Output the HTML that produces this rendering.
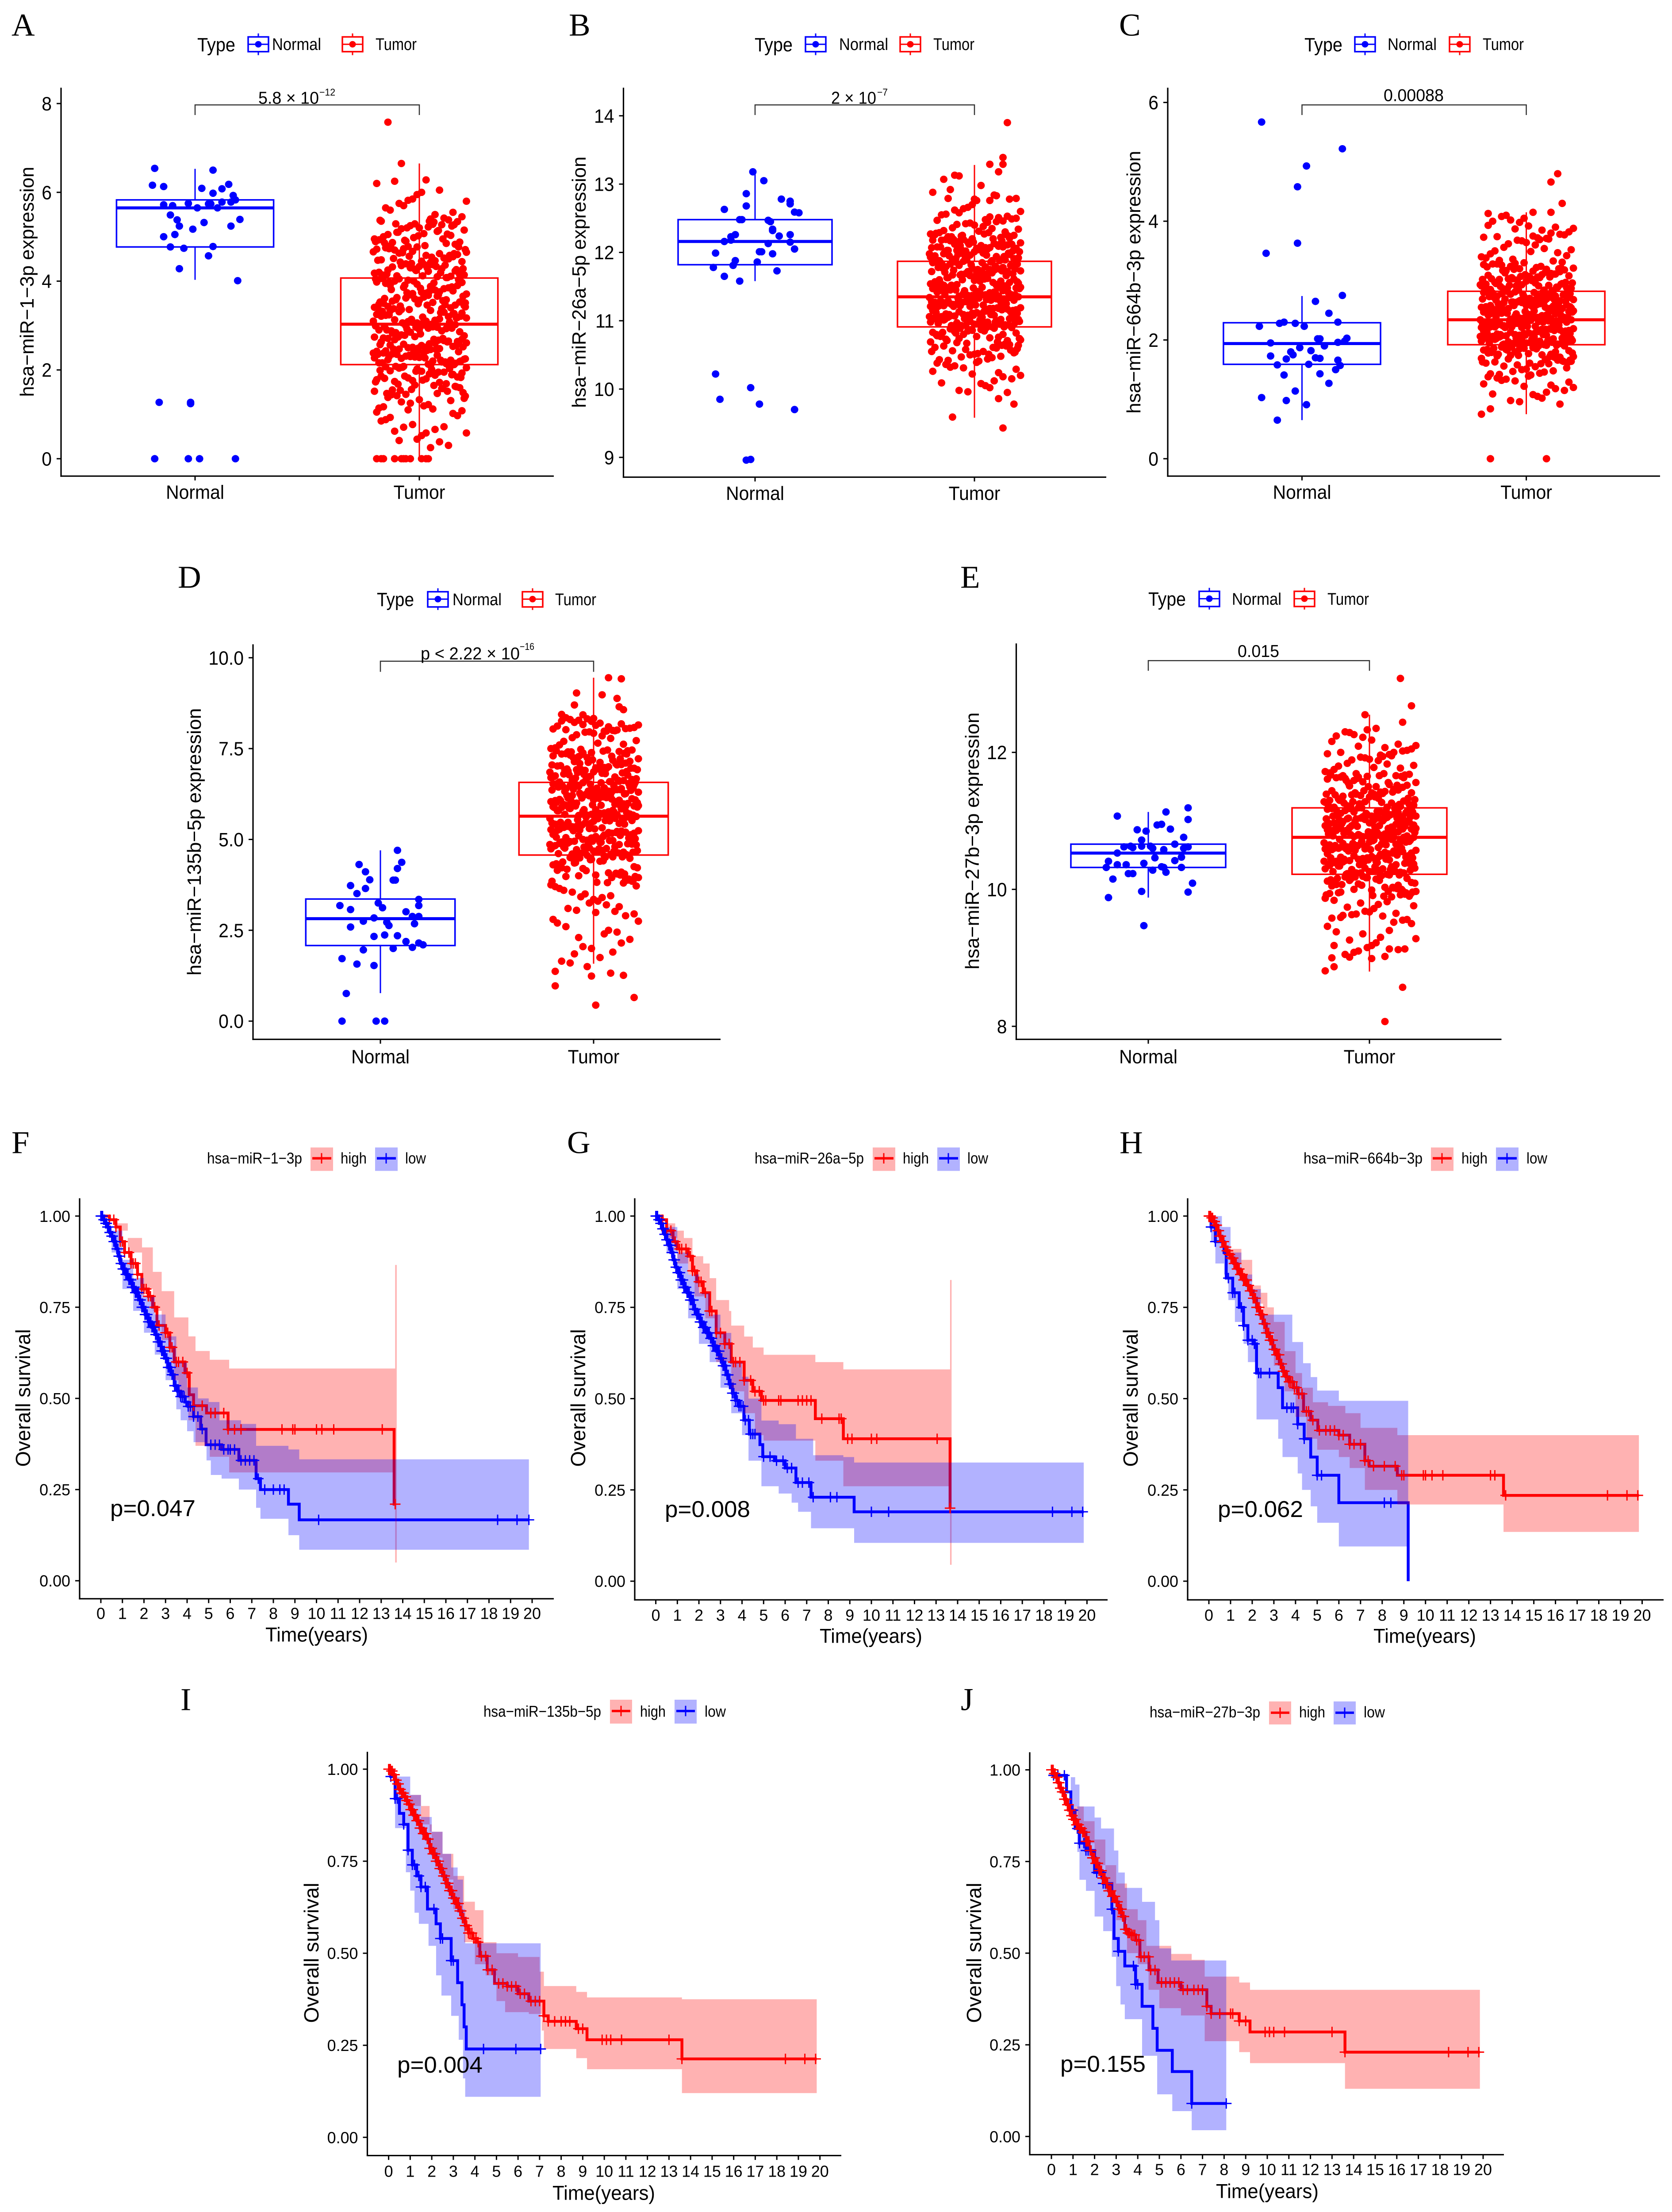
<!DOCTYPE html>
<html lang="en">
<head>
<meta charset="utf-8">
<title>miRNA expression and survival panels</title>
<style>
html,body{margin:0;padding:0;background:#fff;width:100vw;height:100vh;overflow:hidden;}
svg{display:block;position:absolute;left:0;top:0;width:100vw;height:100vh;overflow:hidden;}
text{font-family:"Liberation Sans",Arial,sans-serif;fill:#000;}
.ltr{font-family:"Liberation Serif",serif;font-size:73px;}
.yt{font-size:44px;text-anchor:middle;}
.kt{font-size:46px;text-anchor:middle;}
.lg{font-size:39px;}
.lt{font-size:44px;}
.kl{font-size:36px;}
.sig{font-size:40px;}
.sup{font-size:23px;}
.pv{font-size:53px;}
.tm{font-size:46px;text-anchor:middle;}
.brk{fill:none;stroke:#333;stroke-width:2.5;}
.kb{fill:#fff;stroke-width:3.5;}
</style>
</head>
<body>
<svg id="fig" xmlns="http://www.w3.org/2000/svg" viewBox="0 0 3780 5095" preserveAspectRatio="none">
<rect width="3780" height="5095" fill="#fff"/>

<!-- panel letters -->
<text class="ltr" x="26" y="82">A</text>
<text class="ltr" x="1286" y="82">B</text>
<text class="ltr" x="2530" y="82">C</text>
<text class="ltr" x="402" y="1354">D</text>
<text class="ltr" x="2171" y="1354">E</text>
<text class="ltr" x="26" y="2656">F</text>
<text class="ltr" x="1282" y="2656">G</text>
<text class="ltr" x="2531" y="2656">H</text>
<text class="ltr" x="408" y="3939">I</text>
<text class="ltr" x="2172" y="3939">J</text>

<!-- box y titles -->
<text class="yt" transform="translate(76,649) rotate(-90)" textLength="530" lengthAdjust="spacingAndGlyphs">hsa−miR−1−3p expression</text>
<text class="yt" transform="translate(1324,650) rotate(-90)" textLength="579" lengthAdjust="spacingAndGlyphs">hsa−miR−26a−5p expression</text>
<text class="yt" transform="translate(2578,650) rotate(-90)" textLength="605" lengthAdjust="spacingAndGlyphs">hsa−miR−664b−3p expression</text>
<text class="yt" transform="translate(454,1939) rotate(-90)" textLength="616" lengthAdjust="spacingAndGlyphs">hsa−miR−135b−5p expression</text>
<text class="yt" transform="translate(2213,1937) rotate(-90)" textLength="592" lengthAdjust="spacingAndGlyphs">hsa−miR−27b−3p expression</text>

<!-- box legends -->
<g>
<text class="lt" x="446" y="118" textLength="86" lengthAdjust="spacingAndGlyphs">Type</text>
<g stroke="#00f"><path d="M584 77V127" stroke-width="3"/><rect class="kb" x="561" y="85" width="46" height="34"/><path d="M561 102H607" stroke-width="3"/><circle cx="584" cy="102" r="7.5" fill="#00f" stroke="none"/></g>
<text class="lg" x="615" y="115" textLength="111" lengthAdjust="spacingAndGlyphs">Normal</text>
<g stroke="#f00"><path d="M797 77V127" stroke-width="3"/><rect class="kb" x="774" y="85" width="46" height="34"/><path d="M774 102H820" stroke-width="3"/><circle cx="797" cy="102" r="7.5" fill="#f00" stroke="none"/></g>
<text class="lg" x="849" y="115" textLength="93" lengthAdjust="spacingAndGlyphs">Tumor</text>
</g>
<g>
<text class="lt" x="1706" y="118" textLength="86" lengthAdjust="spacingAndGlyphs">Type</text>
<g stroke="#00f"><path d="M1844 77V127" stroke-width="3"/><rect class="kb" x="1821" y="85" width="46" height="34"/><path d="M1821 102H1867" stroke-width="3"/><circle cx="1844" cy="102" r="7.5" fill="#00f" stroke="none"/></g>
<text class="lg" x="1897" y="115" textLength="111" lengthAdjust="spacingAndGlyphs">Normal</text>
<g stroke="#f00"><path d="M2058 77V127" stroke-width="3"/><rect class="kb" x="2035" y="85" width="46" height="34"/><path d="M2035 102H2081" stroke-width="3"/><circle cx="2058" cy="102" r="7.5" fill="#f00" stroke="none"/></g>
<text class="lg" x="2110" y="115" textLength="93" lengthAdjust="spacingAndGlyphs">Tumor</text>
</g>
<g>
<text class="lt" x="2949" y="118" textLength="86" lengthAdjust="spacingAndGlyphs">Type</text>
<g stroke="#00f"><path d="M3086 77V127" stroke-width="3"/><rect class="kb" x="3063" y="85" width="46" height="34"/><path d="M3063 102H3109" stroke-width="3"/><circle cx="3086" cy="102" r="7.5" fill="#00f" stroke="none"/></g>
<text class="lg" x="3137" y="115" textLength="111" lengthAdjust="spacingAndGlyphs">Normal</text>
<g stroke="#f00"><path d="M3300 77V127" stroke-width="3"/><rect class="kb" x="3277" y="85" width="46" height="34"/><path d="M3277 102H3323" stroke-width="3"/><circle cx="3300" cy="102" r="7.5" fill="#f00" stroke="none"/></g>
<text class="lg" x="3352" y="115" textLength="93" lengthAdjust="spacingAndGlyphs">Tumor</text>
</g>
<g>
<text class="lt" x="852" y="1396" textLength="84" lengthAdjust="spacingAndGlyphs">Type</text>
<g stroke="#00f"><path d="M990 1355V1405" stroke-width="3"/><rect class="kb" x="967" y="1363" width="46" height="35"/><path d="M967 1380H1013" stroke-width="3"/><circle cx="990" cy="1380" r="7.5" fill="#00f" stroke="none"/></g>
<text class="lg" x="1023" y="1394" textLength="111" lengthAdjust="spacingAndGlyphs">Normal</text>
<g stroke="#f00"><path d="M1204 1355V1405" stroke-width="3"/><rect class="kb" x="1181" y="1363" width="46" height="35"/><path d="M1181 1380H1227" stroke-width="3"/><circle cx="1204" cy="1380" r="7.5" fill="#f00" stroke="none"/></g>
<text class="lg" x="1255" y="1394" textLength="93" lengthAdjust="spacingAndGlyphs">Tumor</text>
</g>
<g>
<text class="lt" x="2596" y="1395" textLength="85" lengthAdjust="spacingAndGlyphs">Type</text>
<g stroke="#00f"><path d="M2734 1354V1404" stroke-width="3"/><rect class="kb" x="2711" y="1362" width="46" height="35"/><path d="M2711 1379H2757" stroke-width="3"/><circle cx="2734" cy="1379" r="7.5" fill="#00f" stroke="none"/></g>
<text class="lg" x="2785" y="1393" textLength="112" lengthAdjust="spacingAndGlyphs">Normal</text>
<g stroke="#f00"><path d="M2949 1354V1404" stroke-width="3"/><rect class="kb" x="2926" y="1362" width="46" height="35"/><path d="M2926 1379H2972" stroke-width="3"/><circle cx="2949" cy="1379" r="7.5" fill="#f00" stroke="none"/></g>
<text class="lg" x="3001" y="1393" textLength="94" lengthAdjust="spacingAndGlyphs">Tumor</text>
</g>

<!-- KM static text -->
<text class="kt" transform="translate(68,3220) rotate(-90)" textLength="317" lengthAdjust="spacingAndGlyphs">Overall survival</text>
<text class="kt" transform="translate(1323,3220) rotate(-90)" textLength="317" lengthAdjust="spacingAndGlyphs">Overall survival</text>
<text class="kt" transform="translate(2572,3220) rotate(-90)" textLength="317" lengthAdjust="spacingAndGlyphs">Overall survival</text>
<text class="kt" transform="translate(720,4498) rotate(-90)" textLength="323" lengthAdjust="spacingAndGlyphs">Overall survival</text>
<text class="kt" transform="translate(2218,4498) rotate(-90)" textLength="323" lengthAdjust="spacingAndGlyphs">Overall survival</text>

<text class="tm" x="716" y="3781" textLength="232" lengthAdjust="spacingAndGlyphs">Time(years)</text>
<text class="tm" x="1969" y="3784" textLength="232" lengthAdjust="spacingAndGlyphs">Time(years)</text>
<text class="tm" x="3221" y="3784" textLength="232" lengthAdjust="spacingAndGlyphs">Time(years)</text>
<text class="tm" x="1365" y="5067" textLength="232" lengthAdjust="spacingAndGlyphs">Time(years)</text>
<text class="tm" x="2865" y="5063" textLength="232" lengthAdjust="spacingAndGlyphs">Time(years)</text>

<!-- KM legends -->
<g>
<text class="kl" x="468" y="2680" textLength="215" lengthAdjust="spacingAndGlyphs">hsa−miR−1−3p</text>
<g><rect x="702" y="2643" width="51" height="54" fill="#ffb2b2"/><path d="M706 2668H749" stroke="#f00" stroke-width="5.5"/><path d="M727 2656V2680" stroke="#f00" stroke-width="3"/></g>
<text class="kl" x="770" y="2680" textLength="59" lengthAdjust="spacingAndGlyphs">high</text>
<g><rect x="848" y="2643" width="51" height="54" fill="#b2b2ff"/><path d="M852 2668H895" stroke="#00f" stroke-width="5.5"/><path d="M873 2656V2680" stroke="#00f" stroke-width="3"/></g>
<text class="kl" x="916" y="2680" textLength="47" lengthAdjust="spacingAndGlyphs">low</text>
</g>
<g>
<text class="kl" x="1706" y="2680" textLength="247" lengthAdjust="spacingAndGlyphs">hsa−miR−26a−5p</text>
<g><rect x="1973" y="2643" width="51" height="54" fill="#ffb2b2"/><path d="M1977 2668H2020" stroke="#f00" stroke-width="5.5"/><path d="M1998 2656V2680" stroke="#f00" stroke-width="3"/></g>
<text class="kl" x="2041" y="2680" textLength="59" lengthAdjust="spacingAndGlyphs">high</text>
<g><rect x="2119" y="2643" width="51" height="54" fill="#b2b2ff"/><path d="M2123 2668H2166" stroke="#00f" stroke-width="5.5"/><path d="M2144 2656V2680" stroke="#00f" stroke-width="3"/></g>
<text class="kl" x="2187" y="2680" textLength="47" lengthAdjust="spacingAndGlyphs">low</text>
</g>
<g>
<text class="kl" x="2947" y="2680" textLength="269" lengthAdjust="spacingAndGlyphs">hsa−miR−664b−3p</text>
<g><rect x="3235" y="2643" width="51" height="54" fill="#ffb2b2"/><path d="M3239 2668H3282" stroke="#f00" stroke-width="5.5"/><path d="M3260 2656V2680" stroke="#f00" stroke-width="3"/></g>
<text class="kl" x="3304" y="2680" textLength="59" lengthAdjust="spacingAndGlyphs">high</text>
<g><rect x="3382" y="2643" width="51" height="54" fill="#b2b2ff"/><path d="M3386 2668H3429" stroke="#00f" stroke-width="5.5"/><path d="M3407 2656V2680" stroke="#00f" stroke-width="3"/></g>
<text class="kl" x="3451" y="2680" textLength="47" lengthAdjust="spacingAndGlyphs">low</text>
</g>
<g>
<text class="kl" x="1093" y="3954" textLength="266" lengthAdjust="spacingAndGlyphs">hsa−miR−135b−5p</text>
<g><rect x="1379" y="3915" width="50" height="55" fill="#ffb2b2"/><path d="M1383 3941H1425" stroke="#f00" stroke-width="5.5"/><path d="M1404 3929V3953" stroke="#f00" stroke-width="3"/></g>
<text class="kl" x="1447" y="3954" textLength="58" lengthAdjust="spacingAndGlyphs">high</text>
<g><rect x="1525" y="3915" width="50" height="55" fill="#b2b2ff"/><path d="M1529 3941H1571" stroke="#00f" stroke-width="5.5"/><path d="M1550 3929V3953" stroke="#00f" stroke-width="3"/></g>
<text class="kl" x="1593" y="3954" textLength="48" lengthAdjust="spacingAndGlyphs">low</text>
</g>
<g>
<text class="kl" x="2599" y="3956" textLength="250" lengthAdjust="spacingAndGlyphs">hsa−miR−27b−3p</text>
<g><rect x="2869" y="3919" width="50" height="53" fill="#ffb2b2"/><path d="M2873 3945H2915" stroke="#f00" stroke-width="5.5"/><path d="M2894 3933V3957" stroke="#f00" stroke-width="3"/></g>
<text class="kl" x="2937" y="3956" textLength="59" lengthAdjust="spacingAndGlyphs">high</text>
<g><rect x="3015" y="3919" width="50" height="53" fill="#b2b2ff"/><path d="M3019 3945H3061" stroke="#00f" stroke-width="5.5"/><path d="M3040 3933V3957" stroke="#00f" stroke-width="3"/></g>
<text class="kl" x="3083" y="3956" textLength="48" lengthAdjust="spacingAndGlyphs">low</text>
</g>

<g id="plots"></g>

<!-- brackets and significance labels (on top) -->
<g>
<path class="brk" d="M441 265V241.6H948V265"/>
<text class="sig" x="584" y="239" textLength="137" lengthAdjust="spacingAndGlyphs">5.8 × 10</text>
<text class="sup" x="722" y="220" textLength="36" lengthAdjust="spacingAndGlyphs">−12</text>
</g>
<g>
<path class="brk" d="M1707 265V241.6H2203V265"/>
<text class="sig" x="1879" y="239" textLength="102" lengthAdjust="spacingAndGlyphs">2 × 10</text>
<text class="sup" x="1983" y="220" textLength="24" lengthAdjust="spacingAndGlyphs">−7</text>
</g>
<g>
<path class="brk" d="M2943.5 265V241.6H3450.6V265"/>
<text class="sig" x="3128" y="233" textLength="136" lengthAdjust="spacingAndGlyphs">0.00088</text>
</g>
<g>
<path class="brk" d="M860 1547.5V1523H1342V1547.5"/>
<text class="sig" x="951" y="1519" textLength="224" lengthAdjust="spacingAndGlyphs">p &lt; 2.22 × 10</text>
<text class="sup" x="1175" y="1497" textLength="33" lengthAdjust="spacingAndGlyphs">−16</text>
</g>
<g>
<path class="brk" d="M2596 1545V1521.6H3096V1545"/>
<text class="sig" x="2798" y="1513" textLength="94" lengthAdjust="spacingAndGlyphs">0.015</text>
</g>

<text class="pv" x="249" y="3492" textLength="193" lengthAdjust="spacingAndGlyphs">p=0.047</text>
<text class="pv" x="1503" y="3494" textLength="193" lengthAdjust="spacingAndGlyphs">p=0.008</text>
<text class="pv" x="2753" y="3494" textLength="193" lengthAdjust="spacingAndGlyphs">p=0.062</text>
<text class="pv" x="898" y="4774" textLength="193" lengthAdjust="spacingAndGlyphs">p=0.004</text>
<text class="pv" x="2397" y="4772" textLength="193" lengthAdjust="spacingAndGlyphs">p=0.155</text>
</svg>

<script>
/* ---------- box-plot data ---------- */
const categories = ['Normal','Tumor'];

const yTicksA = [0,2,4,6,8];
const yTicksB = [9,10,11,12,13,14];
const yTicksC = [0,2,4,6];
const yTicksD = [0,2.5,5,7.5,10];
const yTicksE = [8,10,12];
const yTickLabelsA = ['0','2','4','6','8'];
const yTickLabelsB = ['9','10','11','12','13','14'];
const yTickLabelsC = ['0','2','4','6'];
const yTickLabelsD = ['0.0','2.5','5.0','7.5','10.0'];
const yTickLabelsE = ['8','10','12'];

/* whisker-low, q1, median, q3, whisker-high */
const normalBoxA = [4.03,4.77,5.65,5.83,6.53];
const tumorBoxA = [0,2.12,3.03,4.07,6.65];
const normalBoxB = [11.58,11.82,12.16,12.48,13.18];
const tumorBoxB = [9.58,10.91,11.35,11.87,13.28];
const normalBoxC = [0.65,1.59,1.94,2.29,2.74];
const tumorBoxC = [0.75,1.92,2.34,2.82,4.15];
const normalBoxD = [0.77,2.08,2.82,3.36,4.7];
const tumorBoxD = [1.58,4.57,5.64,6.57,9.45];
const normalBoxE = [9.88,10.32,10.53,10.66,11.13];
const tumorBoxE = [8.8,10.22,10.76,11.19,12.55];

/* jitter is in percent of the category spacing */
const normalJitterA = [-18,8,-19,-14,15,3,12,8,17,-14,-10,-3,6,7,12,16,18,1,10,-11,-8,-7,20,16,4,-1,-9,-14,-11,-5,8,6,-7,19,-16,-2,-2,-18,-3,2,18];
const normalValuesA = [6.54,6.5,6.16,6.13,6.18,6.09,6.08,5.98,5.93,5.72,5.7,5.75,5.74,5.74,5.78,5.78,5.83,5.65,5.65,5.49,5.38,5.24,5.39,5.24,5.32,5.17,5.05,5,4.77,4.74,4.78,4.57,4.28,4.01,1.27,1.27,1.24,0,0,0,0];
const normalJitterB = [-1,4,-4,-4,-14,12,16,16,18,20,-7,-6,6,7,8,8,-9,-11,-11,-14,11,16,16,6,18,2,3,8,-18,-9,-10,1,-19,10,-14,-7,-18,-2,-16,2,18,-2,-4];
const normalValuesB = [13.18,13.05,12.86,12.68,12.63,12.78,12.75,12.71,12.59,12.58,12.48,12.48,12.47,12.45,12.34,12.32,12.26,12.23,12.18,12.16,12.24,12.26,12.15,12.13,12.05,12.01,12.01,11.98,11.99,11.88,11.81,11.86,11.78,11.73,11.65,11.58,10.22,10.02,9.85,9.78,9.7,8.97,8.96];
const normalJitterC = [-18,18,2,-2,-2,-16,18,6,12,16,-10,-8,-3,1,-19,7,8,20,19,16,-14,10,-1,4,-5,-4,-14,-7,6,8,16,-11,3,17,15,8,-8,12,-3,-18,-7,2,-11];
const normalValuesC = [5.67,5.22,4.93,4.58,3.63,3.46,2.75,2.65,2.45,2.3,2.28,2.3,2.28,2.23,2.23,2.02,2.02,2.03,1.98,1.96,1.95,1.9,1.87,1.82,1.8,1.75,1.73,1.68,1.7,1.69,1.66,1.58,1.59,1.57,1.5,1.43,1.41,1.27,1.14,1.03,0.98,0.91,0.65];
const normalJitterD = [8,10,8,-10,-7,-5,6,7,-14,-7,-11,18,18,-1,1,-19,-14,12,15,18,-3,-8,3,4,16,-14,-3,2,8,12,18,20,15,6,-8,-18,-11,-3,-16,-18,-2,2];
const normalValuesD = [4.7,4.37,4.2,4.31,4.11,3.89,3.88,3.88,3.73,3.65,3.51,3.35,3.18,3.25,3.12,3.18,3.07,3.01,2.88,2.88,2.84,2.75,2.72,2.63,2.68,2.59,2.33,2.37,2.35,2.19,2.15,2.1,2.03,2,1.96,1.72,1.57,1.53,0.76,0,0,0];
const normalJitterE = [18,18,8,-14,4,6,-5,-1,10,16,-3,12,-8,-11,-7,-3,1,2,7,16,18,-14,3,15,12,-18,-2,-14,-10,-19,6,7,15,2,8,-9,-7,-16,20,-3,18,-18,-2];
const normalValuesE = [11.19,11.02,11.13,11.07,10.94,10.95,10.87,10.85,10.88,10.76,10.72,10.66,10.63,10.62,10.61,10.63,10.63,10.6,10.58,10.6,10.62,10.53,10.46,10.47,10.42,10.41,10.38,10.36,10.36,10.32,10.33,10.32,10.32,10.28,10.25,10.23,10.23,10.15,10.09,9.97,9.96,9.88,9.47];

const tumorJitter = [
5,-11,15,-1,-17,9,-7,19,3,-13,13,-3,-19,7,-9,17,1,-15,11,-5,21,
4,-12,14,-2,-18,8,-8,18,2,-14,12,-4,-20,6,-10,16,0,-16,10,-6,20,
-5,21,-11,11,5,-19,15,-1,-17,9,-7,19,3,-13,13,-3,7,-9,17,1,-15,
6,-10,16,0,-16,10,-6,20,4,-12,14,-2,-18,8,-8,18,2,-14,12,-4,-20,
1,-15,11,-5,21,5,-11,15,-1,-17,9,-7,19,3,-13,13,-3,-19,7,-9,17,
-4,-20,6,-10,16,0,-16,10,-6,20,4,-12,14,-2,-18,8,-8,18,2,-14,12,
9,-7,19,3,-13,13,-3,-19,7,-9,17,1,-15,11,-5,21,5,-11,15,-1,-17,
-16,10,-6,20,4,-12,14,-2,-18,8,-8,18,2,-14,12,-4,-20,6,-10,16,0,
13,-3,-19,7,-9,17,1,-15,11,-5,21,5,-11,15,-1,-17,9,-7,19,3,-13,
-18,8,-8,18,2,-14,12,-4,-20,6,-10,16,0,-16,10,-6,20,4,-12,14,-2,
17,1,-15,11,-5,21,5,-11,15,-1,-17,9,-7,19,3,-13,13,-3,-19,7,-9,
-14,12,-4,-20,6,-10,16,0,-16,10,-6,20,4,-12,14,-2,-18,8,-8,18,2,
21,5,-11,15,-1,-17,9,-7,19,3,-13,13,-3,-19,7,-9,17,1,-15,11,-5];

const denseJitter = [
-3.5,18.5,-14.5,8.5,-9.5,20.5,1.5,-17.5,12.5,-6.5,16.5,-12.5,4.5,-19.5,10.5,-1.5,19.5,-15.5,6.5,-8.5,14.5,
2.5,-10.5,17.5,-16.5,7.5,-4.5,13.5,-20.5,9.5,-0.5,15.5,-13.5,3.5,-7.5,20.5,-11.5,11.5,-18.5,5.5,-2.5,18.5,
-9.5,16.5,-5.5,12.5,-15.5,0.5,19.5,-12.5,8.5,-19.5,4.5,-6.5,14.5,-17.5,10.5,-1.5,17.5,-10.5,2.5,-14.5,6.5,
15.5,-7.5,20.5,-3.5,11.5,-16.5,5.5,-11.5,18.5,-0.5,-20.5,9.5,-8.5,13.5,-13.5,3.5,16.5,-4.5,7.5,-18.5,1.5,
-12.5,10.5,-2.5,19.5,-9.5,14.5,-17.5,6.5,-5.5,12.5,-15.5,0.5,17.5,-10.5,4.5,-19.5,8.5,-6.5,20.5,-13.5,2.5,
11.5,-16.5,5.5,-1.5,15.5,-8.5,18.5,-11.5,3.5,-20.5,9.5,-3.5,13.5,-14.5,7.5,-7.5,16.5,-18.5,1.5,-4.5,19.5,
-0.5,-12.5,14.5,-15.5,6.5,-9.5,20.5,-5.5,10.5,-17.5,2.5,12.5,-10.5,17.5,-2.5,4.5,-19.5,8.5,-13.5,15.5,-6.5];

const tumorValuesA = [
.25,.62,1.02,.44,.85,.38,.71,1.08,.58,.93,.30,.77,1.05,.66,.41,.97,.52,.88,.72,1.10,.58,
1.22,1.55,1.31,1.66,1.14,1.47,1.28,1.60,1.19,1.38,1.69,1.25,1.52,1.12,1.42,1.63,1.33,1.17,1.58,1.45,1.36,
1.82,2.05,1.74,1.95,2.10,1.78,1.90,2.02,1.86,1.72,2.08,1.93,1.80,1.98,2.11,1.76,1.88,2.04,1.84,1.97,2.07,
2.2,2.35,2.15,2.28,2.38,2.18,2.31,2.24,2.13,2.36,2.22,2.29,2.16,2.33,2.26,2.19,2.39,2.23,2.14,2.3,2.27,
2.55,2.43,2.66,2.5,2.61,2.46,2.68,2.53,2.41,2.63,2.48,2.58,2.69,2.44,2.56,2.65,2.51,2.42,2.6,2.47,2.64,
2.85,2.74,2.97,2.8,3.02,2.91,2.72,2.88,2.99,2.77,2.94,2.83,3.0,2.75,2.9,2.96,2.79,2.86,3.01,2.71,2.93,
3.15,3.05,3.28,3.1,3.33,3.2,3.07,3.25,3.12,3.31,3.18,3.04,3.23,3.3,3.09,3.17,3.34,3.13,3.26,3.06,3.21,
3.5,3.38,3.62,3.45,3.68,3.55,3.4,3.6,3.48,3.66,3.36,3.53,3.64,3.43,3.58,3.69,3.41,3.52,3.63,3.46,3.57,
3.85,3.72,3.98,3.8,4.05,3.9,3.75,3.95,3.83,4.02,3.71,3.88,4.0,3.78,3.93,4.06,3.76,3.86,3.97,3.73,3.91,
4.2,4.1,4.35,4.15,4.38,4.25,4.08,4.3,4.18,4.37,4.12,4.23,4.33,4.09,4.28,4.39,4.14,4.22,4.32,4.11,4.27,
4.6,4.45,4.75,4.52,4.78,4.65,4.42,4.7,4.55,4.77,4.48,4.62,4.73,4.44,4.58,4.79,4.5,4.67,4.72,4.46,4.63,
5.05,4.85,5.25,4.95,5.28,5.1,4.83,5.2,5.0,5.27,4.9,5.15,5.22,4.87,5.03,5.29,4.93,5.12,5.18,4.88,5.07,
5.8,5.4,6.25,5.55,5.95,5.35,6.05,5.7,5.45,6.28,5.6,5.38,5.85,6.2,5.5,5.75,5.34,6.0,5.65,5.42,5.82];
const tumorDenseA = [
1.56,1.83,1.47,1.95,1.68,1.41,1.77,1.99,1.52,1.86,1.62,1.44,1.91,1.73,1.58,1.97,1.49,1.81,1.65,1.54,1.89,
2.27,2.08,2.41,2.16,2.46,2.33,2.03,2.38,2.22,2.49,2.12,2.3,2.44,2.06,2.25,2.47,2.18,2.35,2.01,2.4,2.2,
2.74,2.55,2.92,2.63,2.97,2.81,2.52,2.88,2.67,2.99,2.59,2.78,2.94,2.57,2.71,2.96,2.61,2.84,2.51,2.9,2.69,
3.27,3.06,3.42,3.14,3.47,3.32,3.03,3.38,3.21,3.49,3.1,3.29,3.44,3.08,3.24,3.46,3.17,3.36,3.01,3.4,3.19,
3.81,3.56,4.0,3.66,4.06,3.87,3.53,3.96,3.74,4.08,3.61,3.84,4.03,3.58,3.77,4.05,3.69,3.91,3.51,3.98,3.72,
4.36,4.14,4.54,4.24,4.62,4.43,4.11,4.51,4.3,4.66,4.19,4.4,4.58,4.16,4.33,4.64,4.26,4.47,4.12,4.56,4.28,
5.02,4.74,5.24,4.86,5.33,5.1,4.71,5.2,4.95,5.37,4.8,5.06,5.29,4.77,4.98,5.35,4.89,5.14,4.73,5.27,4.92];
const tumorExtraJitterA = [-14,-8,-19,-17,-16,-11,-8,-7,-6,-4,1,3,4];
const tumorExtraValuesA = [7.58,6.65,0,0,0,0,0,0,0,0,0,0,0];

const tumorValuesB = [
10.05,10.32,9.95,10.22,10.38,10.12,9.98,10.29,10.08,10.36,10.18,9.96,10.26,10.02,10.34,10.15,10.39,10.09,10.24,10.31,10.2,
10.55,10.42,10.66,10.5,10.61,10.46,10.68,10.53,10.41,10.63,10.48,10.58,10.69,10.44,10.56,10.65,10.51,10.43,10.6,10.47,10.64,
10.8,10.72,10.88,10.76,10.9,10.83,10.71,10.86,10.78,10.89,10.74,10.82,10.87,10.73,10.8,10.85,10.75,10.84,10.9,10.77,10.81,
10.98,10.92,11.03,10.95,11.04,11.0,10.93,11.02,10.96,11.05,10.94,10.99,11.03,10.91,10.97,11.04,10.95,11.01,11.02,10.93,10.98,
11.12,11.06,11.18,11.09,11.19,11.14,11.07,11.17,11.11,11.2,11.08,11.13,11.16,11.06,11.1,11.19,11.08,11.15,11.18,11.07,11.12,
11.28,11.21,11.33,11.24,11.34,11.3,11.22,11.32,11.26,11.35,11.23,11.29,11.31,11.21,11.27,11.34,11.25,11.3,11.33,11.22,11.28,
11.42,11.36,11.48,11.39,11.49,11.44,11.37,11.47,11.41,11.5,11.38,11.43,11.46,11.36,11.4,11.49,11.38,11.45,11.48,11.37,11.42,
11.6,11.52,11.68,11.55,11.69,11.63,11.51,11.66,11.57,11.7,11.53,11.61,11.65,11.52,11.58,11.69,11.54,11.62,11.67,11.56,11.59,
11.78,11.72,11.85,11.75,11.86,11.8,11.71,11.84,11.76,11.87,11.73,11.79,11.83,11.72,11.77,11.86,11.74,11.81,11.85,11.73,11.79,
11.95,11.88,12.03,11.91,12.04,11.98,11.89,12.02,11.93,12.05,11.9,11.97,12.01,11.88,11.94,12.04,11.92,11.99,12.03,11.89,11.96,
12.12,12.06,12.18,12.09,12.19,12.14,12.07,12.17,12.11,12.2,12.08,12.13,12.16,12.06,12.1,12.19,12.08,12.15,12.18,12.07,12.12,
12.32,12.22,12.42,12.27,12.44,12.36,12.21,12.4,12.29,12.45,12.24,12.34,12.38,12.23,12.3,12.43,12.26,12.35,12.41,12.25,12.31,
12.6,12.48,12.92,12.53,12.7,12.47,12.84,12.58,12.5,12.98,12.56,12.46,12.66,12.88,12.52,12.62,12.49,12.76,12.55,12.51,12.64];
const tumorDenseB = [
10.67,10.54,10.83,10.61,10.88,10.74,10.52,10.8,10.64,10.89,10.57,10.71,10.85,10.55,10.69,10.87,10.59,10.77,10.51,10.82,10.63,
11.01,10.93,11.07,10.96,11.09,11.03,10.91,11.06,10.98,11.08,10.94,11.02,11.05,10.92,10.99,11.09,10.95,11.04,10.9,11.06,10.97,
11.21,11.13,11.27,11.16,11.29,11.23,11.11,11.26,11.18,11.28,11.14,11.22,11.25,11.12,11.19,11.29,11.15,11.24,11.1,11.27,11.17,
11.41,11.33,11.47,11.36,11.49,11.43,11.31,11.46,11.38,11.48,11.34,11.42,11.45,11.32,11.39,11.49,11.35,11.44,11.3,11.47,11.37,
11.63,11.53,11.71,11.57,11.74,11.66,11.51,11.7,11.6,11.73,11.55,11.64,11.69,11.52,11.61,11.72,11.56,11.67,11.5,11.71,11.58,
11.88,11.78,11.96,11.82,11.99,11.91,11.76,11.95,11.85,11.98,11.8,11.89,11.94,11.77,11.86,11.97,11.81,11.92,11.75,11.96,11.83,
12.15,12.03,12.26,12.08,12.29,12.19,12.01,12.25,12.11,12.28,12.05,12.17,12.23,12.02,12.12,12.27,12.07,12.2,12.0,12.24,12.1];
const tumorExtraJitterB = [15,13,13,7,11,-14,-9,-7,10,-12,0,16,19,7,13,-10,18,11];
const tumorExtraValuesB = [13.9,13.39,13.29,13.29,13.18,13.07,13.13,13.12,12.83,12.79,12.78,12.78,12.79,12.76,9.43,9.59,9.78,9.86];

const tumorValuesC = [
1.05,1.32,.92,1.22,1.38,1.12,.98,1.29,1.08,1.36,1.18,.96,1.26,1.02,1.34,1.15,1.39,1.09,1.24,1.31,1.2,
1.55,1.42,1.66,1.5,1.61,1.46,1.68,1.53,1.41,1.63,1.48,1.58,1.69,1.44,1.56,1.65,1.51,1.43,1.6,1.47,1.64,
1.8,1.72,1.88,1.76,1.9,1.83,1.71,1.86,1.78,1.91,1.74,1.82,1.87,1.73,1.8,1.85,1.75,1.84,1.9,1.77,1.81,
1.98,1.93,2.03,1.95,2.04,2.0,1.94,2.02,1.96,2.05,1.93,1.99,2.03,1.92,1.97,2.04,1.95,2.01,2.02,1.94,1.98,
2.12,2.06,2.18,2.09,2.19,2.14,2.07,2.17,2.11,2.2,2.08,2.13,2.16,2.06,2.1,2.19,2.08,2.15,2.18,2.07,2.12,
2.28,2.21,2.33,2.24,2.34,2.3,2.22,2.32,2.26,2.34,2.23,2.29,2.31,2.21,2.27,2.33,2.25,2.3,2.33,2.22,2.28,
2.42,2.35,2.48,2.39,2.49,2.44,2.37,2.47,2.41,2.5,2.38,2.43,2.46,2.36,2.4,2.49,2.38,2.45,2.48,2.37,2.42,
2.58,2.51,2.64,2.54,2.65,2.6,2.52,2.63,2.56,2.65,2.53,2.59,2.62,2.51,2.57,2.64,2.55,2.61,2.63,2.53,2.58,
2.74,2.66,2.8,2.7,2.82,2.76,2.67,2.79,2.72,2.81,2.68,2.75,2.78,2.66,2.73,2.8,2.69,2.77,2.79,2.67,2.74,
2.94,2.84,3.03,2.88,3.04,2.97,2.83,3.01,2.91,3.05,2.86,2.95,2.99,2.85,2.92,3.03,2.87,2.96,3.02,2.89,2.93,
3.18,3.07,3.28,3.12,3.29,3.21,3.06,3.26,3.15,3.3,3.09,3.19,3.24,3.08,3.16,3.28,3.11,3.2,3.27,3.1,3.17,
3.5,3.33,3.68,3.4,3.69,3.56,3.31,3.64,3.45,3.7,3.36,3.52,3.6,3.34,3.47,3.67,3.38,3.54,3.62,3.42,3.49,
3.88,3.72,4.08,3.78,4.05,3.93,3.71,4.02,3.82,3.75,3.74,3.9,3.98,3.73,3.85,4.1,3.77,3.92,4.0,3.8,3.87];
const tumorDenseC = [
1.74,1.62,1.86,1.67,1.89,1.78,1.61,1.84,1.71,1.88,1.64,1.76,1.85,1.63,1.72,1.87,1.66,1.79,1.6,1.83,1.69,
2.01,1.92,2.07,1.95,2.09,2.03,1.91,2.06,1.98,2.08,1.94,2.02,2.05,1.93,1.99,2.09,1.96,2.04,1.9,2.06,1.97,
2.21,2.13,2.27,2.16,2.29,2.23,2.11,2.26,2.18,2.28,2.14,2.22,2.25,2.12,2.19,2.29,2.15,2.24,2.1,2.27,2.17,
2.41,2.33,2.47,2.36,2.49,2.43,2.31,2.46,2.38,2.48,2.34,2.42,2.45,2.32,2.39,2.49,2.35,2.44,2.3,2.47,2.37,
2.61,2.53,2.67,2.56,2.69,2.63,2.51,2.66,2.58,2.68,2.54,2.62,2.65,2.52,2.59,2.69,2.55,2.64,2.5,2.67,2.57,
2.83,2.73,2.91,2.77,2.94,2.86,2.71,2.9,2.8,2.93,2.75,2.84,2.89,2.72,2.81,2.92,2.76,2.87,2.7,2.91,2.78,
3.1,2.98,3.2,3.03,3.24,3.13,2.96,3.19,3.06,3.23,3.0,3.11,3.17,2.97,3.07,3.22,3.02,3.14,2.95,3.21,3.05];
const tumorExtraJitterC = [14,11,16,3,11,-17,-16,9,-20,-16];
const tumorExtraValuesC = [4.8,4.66,4.3,4.15,4.15,4.13,0,0,.75,.84];

const tumorValuesD = [
2.4,1.6,2.9,2.0,2.7,1.9,2.3,2.95,1.75,2.6,2.15,1.5,2.8,2.5,1.85,2.25,2.99,1.65,2.45,2.05,2.75,
3.4,3.1,3.8,3.25,3.7,3.45,3.05,3.85,3.3,3.6,3.15,3.5,3.75,3.2,3.55,3.88,3.35,3.65,3.02,3.42,3.72,
4.2,3.95,4.5,4.05,4.55,4.3,3.92,4.45,4.15,4.52,4.0,4.25,4.4,3.98,4.1,4.56,4.08,4.35,4.48,4.02,4.22,
4.75,4.6,4.88,4.68,4.89,4.8,4.62,4.85,4.7,4.9,4.65,4.77,4.83,4.59,4.72,4.87,4.66,4.79,4.86,4.63,4.74,
5.08,4.93,5.22,5.0,5.24,5.12,4.94,5.2,5.04,5.25,4.97,5.1,5.17,4.92,5.05,5.23,4.98,5.14,5.19,4.95,5.06,
5.45,5.27,5.6,5.35,5.62,5.5,5.28,5.58,5.4,5.63,5.32,5.47,5.55,5.3,5.42,5.61,5.36,5.52,5.57,5.33,5.44,
5.8,5.66,5.92,5.72,5.94,5.84,5.67,5.9,5.76,5.95,5.7,5.82,5.88,5.68,5.77,5.93,5.73,5.85,5.91,5.69,5.79,
6.1,5.97,6.22,6.03,6.24,6.14,5.98,6.2,6.07,6.25,6.0,6.12,6.18,5.96,6.08,6.23,6.04,6.15,6.21,5.99,6.09,
6.4,6.27,6.53,6.33,6.55,6.45,6.28,6.5,6.37,6.56,6.3,6.42,6.48,6.26,6.38,6.54,6.34,6.46,6.51,6.29,6.39,
6.75,6.59,6.92,6.65,6.94,6.8,6.6,6.9,6.7,6.95,6.63,6.77,6.86,6.58,6.72,6.93,6.67,6.82,6.88,6.62,6.73,
7.15,6.97,7.35,7.05,7.38,7.22,6.98,7.32,7.1,7.39,7.02,7.18,7.28,6.96,7.12,7.36,7.06,7.25,7.3,7.0,7.14,
7.7,7.42,7.95,7.5,7.98,7.8,7.44,7.92,7.6,7.99,7.48,7.72,7.85,7.41,7.62,7.96,7.52,7.78,7.88,7.46,7.65,
8.15,7.98,8.3,8.05,8.25,8.12,8.0,8.28,8.08,8.2,8.02,8.18,8.32,8.04,8.1,8.22,8.06,8.14,8.26,8.01,8.16];
const tumorDenseD = [
4.14,3.87,4.38,3.95,4.46,4.22,3.82,4.33,4.02,4.49,3.91,4.18,4.41,3.85,4.07,4.44,3.98,4.27,3.81,4.36,4.05,
4.74,4.54,4.89,4.61,4.97,4.79,4.52,4.86,4.67,4.95,4.58,4.76,4.92,4.56,4.69,4.94,4.63,4.82,4.51,4.88,4.65,
5.24,5.04,5.39,5.11,5.47,5.29,5.02,5.36,5.17,5.45,5.08,5.26,5.42,5.06,5.19,5.44,5.13,5.32,5.01,5.38,5.15,
5.74,5.54,5.89,5.61,5.97,5.79,5.52,5.86,5.67,5.95,5.58,5.76,5.92,5.56,5.69,5.94,5.63,5.82,5.51,5.88,5.65,
6.21,6.04,6.33,6.09,6.38,6.25,6.02,6.31,6.14,6.37,6.07,6.22,6.35,6.05,6.17,6.36,6.11,6.27,6.01,6.32,6.13,
6.63,6.44,6.81,6.52,6.87,6.69,6.42,6.78,6.56,6.85,6.48,6.65,6.83,6.46,6.59,6.84,6.54,6.73,6.41,6.79,6.57,
7.19,6.94,7.37,7.03,7.46,7.25,6.92,7.34,7.08,7.44,6.98,7.22,7.41,6.96,7.12,7.43,7.05,7.29,6.91,7.35,7.09];
const tumorExtraJitterD = [7,13,-8,4,11,-9,12,14,-15,-5,-13,0,1,19,-18,-18,-1,8,14];
const tumorExtraValuesD = [9.45,9.42,9.03,8.98,8.88,8.7,8.65,8.57,8.44,8.43,8.35,8.33,.44,.65,.97,1.37,1.24,1.32,1.26];

const tumorValuesE = [
9.3,9.05,9.55,9.15,9.58,9.4,9.08,9.5,9.22,9.59,9.12,9.35,9.46,9.02,9.26,9.56,9.18,9.38,9.52,9.1,9.28,
9.78,9.62,9.92,9.68,9.94,9.82,9.63,9.9,9.72,9.95,9.65,9.8,9.87,9.61,9.74,9.93,9.67,9.84,9.89,9.64,9.76,
10.08,9.97,10.18,10.02,10.2,10.12,9.98,10.17,10.05,10.21,10.0,10.1,10.15,9.96,10.06,10.19,10.03,10.13,10.16,9.99,10.07,
10.3,10.23,10.38,10.26,10.39,10.33,10.24,10.37,10.28,10.4,10.25,10.31,10.35,10.22,10.29,10.38,10.27,10.34,10.36,10.24,10.3,
10.48,10.41,10.56,10.44,10.57,10.51,10.42,10.55,10.46,10.58,10.43,10.49,10.53,10.41,10.47,10.56,10.45,10.52,10.54,10.42,10.48,
10.66,10.59,10.74,10.62,10.75,10.69,10.6,10.73,10.64,10.76,10.61,10.67,10.71,10.59,10.65,10.74,10.63,10.7,10.72,10.6,10.66,
10.82,10.77,10.88,10.79,10.89,10.84,10.77,10.87,10.81,10.9,10.78,10.83,10.86,10.76,10.8,10.89,10.79,10.85,10.88,10.78,10.82,
10.97,10.91,11.03,10.94,11.04,10.99,10.92,11.02,10.96,11.05,10.93,10.98,11.01,10.91,10.95,11.04,10.93,11.0,11.03,10.92,10.97,
11.12,11.06,11.17,11.08,11.18,11.14,11.07,11.16,11.1,11.19,11.07,11.13,11.15,11.06,11.09,11.18,11.08,11.13,11.17,11.07,11.11,
11.3,11.2,11.38,11.24,11.39,11.32,11.21,11.37,11.27,11.4,11.22,11.29,11.35,11.2,11.26,11.39,11.23,11.33,11.36,11.21,11.28,
11.52,11.41,11.63,11.46,11.64,11.56,11.42,11.62,11.49,11.65,11.44,11.53,11.59,11.41,11.5,11.64,11.45,11.57,11.61,11.43,11.51,
11.8,11.66,11.93,11.72,11.94,11.84,11.67,11.9,11.75,11.95,11.69,11.81,11.88,11.66,11.77,11.92,11.7,11.83,11.89,11.68,11.78,
12.1,11.96,12.3,12.02,12.33,12.16,11.97,12.26,12.05,12.35,12.0,12.12,12.22,11.98,12.07,12.29,12.03,12.18,12.24,12.0,12.09];
const tumorDenseE = [
10.06,9.93,10.16,9.97,10.19,10.09,9.91,10.14,10.01,10.18,9.95,10.07,10.13,9.92,10.03,10.17,9.96,10.1,9.9,10.15,10.0,
10.33,10.22,10.42,10.26,10.44,10.36,10.21,10.41,10.29,10.43,10.24,10.34,10.39,10.23,10.31,10.44,10.27,10.37,10.2,10.4,10.28,
10.56,10.47,10.63,10.5,10.64,10.58,10.46,10.62,10.52,10.64,10.48,10.57,10.6,10.46,10.53,10.63,10.49,10.59,10.45,10.61,10.51,
10.76,10.67,10.83,10.7,10.84,10.78,10.66,10.82,10.72,10.84,10.68,10.77,10.8,10.66,10.73,10.83,10.69,10.79,10.65,10.81,10.71,
10.96,10.87,11.03,10.9,11.04,10.98,10.86,11.02,10.92,11.04,10.88,10.97,11.0,10.86,10.93,11.03,10.89,10.99,10.85,11.01,10.91,
11.18,11.07,11.27,11.11,11.29,11.21,11.06,11.26,11.14,11.28,11.09,11.19,11.24,11.07,11.15,11.28,11.12,11.22,11.05,11.25,11.13,
11.5,11.32,11.65,11.38,11.69,11.55,11.31,11.62,11.42,11.67,11.35,11.52,11.59,11.33,11.44,11.66,11.39,11.56,11.3,11.63,11.41];
const tumorExtraJitterE = [14,19,-2,15,7,15,-20,-16,-17,-9,1,9,16,-16];
const tumorExtraValuesE = [13.08,12.68,12.55,12.44,8.07,8.57,8.81,8.87,9,9.01,8.99,9.13,9.13,9.18];

/* ---------- survival data: times (years) and values ---------- */
const xTickYears = [0,1,2,3,4,5,6,7,8,9,10,11,12,13,14,15,16,17,18,19,20];
const survTicks = [0,0.25,0.5,0.75,1];
const survTickLabels = ['0.00','0.25','0.50','0.75','1.00'];

const denseCensor = [0,.04,.08,.13,.17,.22,.27,.31,.36,.41,.46,.5,.55,.6,.64,.69,.74,.79,.83,.88,.93,.97,1.02,1.07,1.12,1.16,1.21,1.26,1.3,1.35,1.4,1.45,1.5,1.55,1.6,1.65,1.7,1.74,1.79,1.84,1.9,1.95,2,2.05,2.1,2.15,2.2,2.26,2.32,2.37,2.42,2.48,2.54,2.6,2.65,2.7,2.76,2.82,2.88,2.94,3,3.06,3.12,3.18,3.24,3.3,3.36,3.42,3.48,3.55,3.62,3.7,3.78,3.86,3.95,4.05,4.15,4.3,4.5];

/* F */
const fHighTime = [0,.4,.7,.9,1.1,1.4,1.7,1.9,2.2,2.4,2.6,3,3.2,3.4,3.9,4.1,4.3,4.9,5.9,13.6];
const fHighSurv = [1,.99,.97,.93,.9,.87,.84,.8,.78,.75,.7,.68,.64,.6,.57,.51,.48,.46,.415,.21];
const fHighUpperT = [0,.76,1.25,1.91,2.41,2.82,3.4,4.06,4.39,5.05,5.95,13.65];
const fHighUpper = [1,.98,.94,.914,.847,.794,.722,.67,.63,.606,.582,.866];
const fHighLowerT = [0,.76,1.25,1.91,2.41,2.82,3.4,3.6,4.06,4.39,5.05,5.95,13.65];
const fHighLower = [1,.96,.9,.8,.74,.66,.55,.5,.44,.37,.34,.297,.05];
const fHighCensor = [.4,.6,.7,.9,1,1.1,1.3,1.4,1.5,1.6,1.7,1.9,2,2.1,2.2,2.3,2.5,2.7,3,3.1,3.2,3.3,3.5,3.6,3.8,4,4.3,4.7,5.1,5.3,5.7,5.9,6.2,6.5,8.4,8.9,9,10,10.25,10.8,13.05,13.65];
const fLowTime = [0,.1,.2,.3,.4,.5,.6,.7,.8,.9,1,1.15,1.3,1.45,1.6,1.75,1.9,2.05,2.2,2.35,2.5,2.65,2.8,2.95,3.1,3.25,3.4,3.55,3.7,3.9,4.05,4.3,4.63,4.88,5.6,6.4,7.2,7.4,8.7,9.2];
const fLowSurv = [1,.99,.98,.97,.955,.945,.93,.91,.89,.87,.855,.84,.825,.805,.79,.77,.75,.73,.71,.695,.675,.655,.63,.61,.585,.565,.535,.52,.505,.49,.478,.45,.416,.373,.36,.33,.28,.25,.21,.167];
const fLowUpperT = [0,.5,1,1.5,2,2.5,3,3.5,4,4.5,5,5.5,6.5,7.2,8.7,9.2];
const fLowUpper = [1,.96,.88,.83,.78,.73,.67,.6,.53,.5,.49,.44,.43,.37,.36,.333];
const fLowLowerT = [0,.5,1,1.5,2,2.5,3,3.5,3.7,4,4.3,4.9,5.1,5.6,6.4,7.2,7.4,8.7,9.2];
const fLowLower = [1,.9,.8,.74,.68,.62,.55,.47,.44,.41,.38,.33,.29,.28,.25,.2,.17,.125,.085];
const fLowCensor = denseCensor.concat([4.7,5.1,5.3,5.5,5.7,5.9,6,6.2,6.5,6.7,6.9,7.1,7.3,7.6,8,8.3,8.5,10.1,18.4,19.3,19.85]);

/* G */
const gHighTime = [0,.3,.5,.8,1,1.5,1.7,1.9,2.2,2.5,2.8,3.2,3.5,4.1,4.5,4.9,7.4,8.7,13.65];
const gHighSurv = [1,.99,.96,.93,.91,.89,.85,.82,.79,.74,.68,.65,.6,.55,.52,.495,.445,.39,.2];
const gHighUpperT = [0,.5,.9,1.3,1.7,2.2,2.5,2.8,3.4,3.5,4.1,4.5,5,7.4,8.7,13.65];
const gHighUpper = [1,.98,.96,.94,.89,.87,.83,.77,.74,.7,.67,.64,.62,.6,.58,.825];
const gHighLowerT = [0,.5,1,1.5,1.8,2.3,2.8,3.5,4.1,4.6,5,6.6,7.4,8.7,13.65];
const gHighLower = [1,.94,.87,.84,.78,.72,.6,.52,.46,.4,.385,.385,.33,.26,.045];
const gHighCensor = [.3,.5,.7,.9,1.1,1.2,1.4,1.6,1.7,1.8,2,2.1,2.3,2.5,2.6,2.8,3,3.2,3.4,3.6,3.7,3.9,4.1,4.4,4.6,4.8,5,5.1,5.7,5.8,6.6,6.8,7,7.2,7.7,8.5,8.6,8.9,9.1,10,10.25,13.05,13.65];
const gLowTime = [0,.1,.2,.3,.4,.5,.6,.7,.8,.9,1,1.15,1.3,1.45,1.6,1.75,1.9,2.05,2.2,2.35,2.5,2.65,2.8,2.95,3.1,3.25,3.4,3.55,3.7,3.85,4.09,4.34,4.83,4.96,5.5,6,6.5,7.2,9.2];
const gLowSurv = [1,.99,.98,.965,.95,.935,.92,.9,.88,.86,.845,.825,.805,.79,.77,.745,.73,.71,.695,.68,.665,.645,.63,.61,.59,.565,.54,.515,.495,.479,.441,.403,.374,.341,.33,.31,.27,.23,.19];
const gLowUpperT = [0,.5,1,1.5,2,2.5,3,3.5,4,4.3,4.9,5.7,6.5,7.3,8.7,9.2];
const gLowUpper = [1,.97,.9,.84,.79,.73,.68,.6,.56,.5,.44,.43,.39,.345,.34,.325];
const gLowLowerT = [0,.5,1,1.5,2,2.5,3,3.5,4,4.3,4.9,5.7,6.3,6.6,7.2,9.2];
const gLowLower = [1,.9,.8,.72,.65,.6,.53,.46,.4,.33,.26,.24,.215,.19,.145,.105];
const gLowCensor = denseCensor.concat([4.4,4.6,5,5.3,5.6,5.9,6.1,6.3,6.6,6.8,7.1,7.3,8.1,8.4,10,10.8,18.4,19.3,19.8]);

/* H */
const hHighTime = [0,.1,.2,.3,.4,.5,.6,.7,.8,.9,1,1.15,1.3,1.45,1.6,1.75,1.9,2.05,2.2,2.35,2.5,2.65,2.8,2.95,3.1,3.25,3.4,3.55,3.7,3.9,4.12,4.37,4.7,5.03,6,6.5,7.2,7.4,8.7,13.6];
const hHighSurv = [1,.995,.985,.975,.96,.945,.93,.915,.905,.895,.885,.87,.855,.84,.825,.81,.795,.775,.75,.73,.705,.68,.66,.635,.62,.595,.575,.56,.546,.53,.513,.465,.441,.413,.4,.375,.33,.315,.29,.235];
const hHighUpperT = [0,1,1.5,2,2.4,2.7,3,3.5,4,4.3,4.8,5.5,6.3,7,8.7,13.6];
const hHighUpper = [1,.91,.88,.81,.79,.75,.71,.63,.57,.53,.49,.48,.46,.42,.4,.4];
const hHighLowerT = [0,1,1.5,2,2.5,3,3.5,4,4.5,5,6,6.5,7.2,8.7,13.6];
const hHighLower = [1,.87,.82,.76,.68,.59,.52,.45,.39,.36,.34,.31,.25,.21,.135];
const hHighCensor = denseCensor.concat([4.6,4.8,5.1,5.4,5.6,5.8,6,6.2,6.5,6.7,7,7.2,7.35,7.6,8.1,8.6,8.9,9,9.9,10,10.3,10.8,13,13.2,13.7,18.4,19.3,19.8]);
const hLowTime = [0,.1,.3,.7,.8,1.1,1.4,1.6,1.8,2.1,2.2,3.2,3.4,4.1,4.4,4.7,5,6,9.2];
const hLowSurv = [1,.97,.93,.9,.83,.79,.75,.7,.66,.65,.57,.53,.475,.43,.39,.34,.29,.215,0];
const hLowUpperT = [0,.6,1,1.5,2,2.4,3.2,3.85,4.35,4.7,5,6];
const hLowUpper = [1,.97,.9,.84,.8,.73,.73,.655,.597,.559,.522,.494];
const hLowLowerT = [0,.1,.3,.7,.9,1.2,1.6,1.8,2.2,3.2,3.4,4.1,4.3,4.7,5,6];
const hLowLower = [1,.93,.87,.84,.77,.71,.65,.6,.443,.39,.34,.295,.25,.205,.16,.095];
const hLowCensor = [.05,.1,.3,.6,.9,1.1,1.2,1.5,1.6,1.8,2,2.1,2.3,2.4,2.8,3.6,3.8,3.9,4.1,4.4,5,5.2,8.1,8.4];

/* I */
const iHighTime = [0,.1,.2,.3,.4,.5,.6,.7,.8,.9,1,1.15,1.3,1.45,1.6,1.75,1.9,2.05,2.2,2.35,2.5,2.65,2.8,2.95,3.1,3.25,3.4,3.55,3.7,3.9,4.06,4.23,4.57,4.91,5.5,6,6.5,7.2,7.4,8.7,9.2,13.6];
const iHighSurv = [1,.995,.985,.97,.96,.945,.935,.925,.915,.905,.89,.875,.86,.84,.825,.81,.785,.77,.75,.73,.71,.69,.67,.65,.635,.615,.595,.575,.555,.54,.53,.492,.455,.418,.41,.39,.37,.33,.315,.295,.265,.213];
const iHighUpperT = [0,1,1.5,1.9,2.5,3,3.5,4,4.4,5,6,7,7.2,8.7,9.2,13.6];
const iHighUpper = [1,.93,.9,.83,.77,.71,.64,.617,.53,.5,.49,.45,.411,.395,.38,.375];
const iHighLowerT = [0,1,1.5,2,2.5,3,3.5,4,4.5,5,5.4,6.5,7.1,7.2,8.7,9.2,13.6];
const iHighLower = [1,.9,.85,.76,.7,.62,.53,.47,.44,.37,.34,.335,.29,.24,.215,.185,.12];
const iHighCensor = denseCensor.concat([4.6,4.8,5.1,5.3,5.5,5.7,5.9,6.1,6.3,6.6,6.8,7,7.2,7.4,7.7,8,8.2,8.4,8.8,9,9.9,10.1,10.3,10.8,13,13.6,18.4,19.3,19.8]);
const iLowTime = [0,.1,.3,.5,.7,.9,1.1,1.3,1.5,1.8,2.2,2.4,2.9,3.2,3.4,3.5,3.6];
const iLowSurv = [1,.98,.92,.88,.85,.78,.74,.71,.68,.62,.58,.54,.48,.42,.36,.3,.24];
const iLowUpperT = [0,.3,1,1.5,2,2.5,2.9,3.2,3.45,3.55];
const iLowUpper = [1,.98,.93,.87,.83,.77,.733,.7,.62,.527];
const iLowLowerT = [0,.3,.8,1,1.2,1.4,1.85,2.2,2.45,2.9,3.25,3.45,3.55];
const iLowLower = [1,.84,.72,.67,.61,.58,.52,.44,.385,.33,.265,.16,.11];
const iLowCensor = [.1,.3,.4,.7,.9,1.1,1.2,1.4,1.5,1.7,2.1,2.4,2.5,2.9,3,4.4,5.9,7.05];

/* J */
const jHighTime = [0,.1,.2,.3,.4,.5,.6,.7,.8,.9,1,1.15,1.3,1.45,1.6,1.75,1.9,2.05,2.2,2.35,2.5,2.65,2.8,2.95,3.1,3.25,3.4,3.55,3.7,3.9,4.1,4.52,4.94,6,7.2,7.4,8.7,9.2,13.6];
const jHighSurv = [1,.99,.98,.965,.95,.94,.92,.905,.89,.875,.865,.85,.84,.83,.805,.78,.76,.745,.725,.705,.69,.67,.655,.64,.62,.6,.565,.555,.55,.535,.49,.454,.42,.4,.355,.335,.315,.285,.23];
const jHighUpperT = [0,1,1.5,2,2.5,3,3.5,4,4.4,5.55,6.5,7.1,8.7,9.2,13.6];
const jHighUpper = [1,.9,.86,.81,.74,.69,.62,.59,.52,.498,.482,.436,.42,.4,.4];
const jHighLowerT = [0,1,1.5,2,2.5,3,3.5,4,4.5,5,6,7.1,8.7,9.2,13.6];
const jHighLower = [1,.85,.8,.74,.67,.59,.5,.47,.4,.35,.33,.26,.23,.2,.13];
const jHighCensor = denseCensor.concat([4.6,4.8,5.1,5.3,5.5,5.7,5.9,6.1,6.3,6.6,6.8,7,7.2,7.4,7.8,8.3,8.4,8.7,9,9.9,10.1,10.3,10.8,13,13.6,18.4,19.3,19.8]);
const jLowTime = [0,.1,.7,.9,1.1,1.3,1.6,2,2.4,2.8,2.9,3.1,3.4,3.9,4.2,4.7,4.9,5.6,6.5];
const jLowSurv = [1,.985,.94,.89,.84,.8,.78,.72,.69,.62,.54,.505,.465,.415,.355,.295,.235,.177,.09];
const jLowUpperT = [0,.9,1.1,1.3,2,2.3,2.9,3.1,3.4,4.2,4.8,5,5.55];
const jLowUpper = [1,.98,.96,.9,.87,.84,.78,.72,.678,.64,.59,.513,.48];
const jLowLowerT = [0,.9,1.2,1.3,1.6,2,2.4,2.8,3,3.2,3.4,4.2,4.9,5.6,6.5];
const jLowLower = [1,.9,.776,.7,.67,.6,.56,.49,.41,.36,.32,.22,.115,.069,.017];
const jLowCensor = [.1,.3,.6,.9,1,1.2,1.3,1.5,1.6,1.7,2.1,2.3,2.4,2.5,2.8,3.1,3.8,3.9,4,6.5,8.1];

/* ---------- drawing ---------- */
const NS = 'http://www.w3.org/2000/svg';
const plotLayer = document.getElementById('plots');
const RED = '#ff0000', BLUE = '#0000ff';
const DOT_R = 8.5;

function mk(tag, attrs, parent){
  const node = document.createElementNS(NS, tag);
  for (const k in attrs) node.setAttribute(k, attrs[k]);
  parent.appendChild(node);
  return node;
}
function linear(d0, d1, r0, r1){
  return function(v){ return r0 + (v - d0) * (r1 - r0) / (d1 - d0); };
}

function drawAxes(g, c, yScale, yVals, yLabels, xPositions, xLabels, fontSize, xScaleText, tickLen){
  const yl = mk('line',{x1:c.axisX,x2:c.axisX,y1:c.top,y2:c.bottom+1.6,stroke:'#000','stroke-width':3.2},g);
  
  
  const xl = mk('line',{x1:c.axisX-1.6,x2:c.right,y1:c.bottom,y2:c.bottom,stroke:'#000','stroke-width':3.2},g);
  
  
  yVals.forEach(function(v,i){
    const py = yScale(v);
    const t = mk('line',{x1:c.axisX-tickLen,x2:c.axisX,y1:py,y2:py,stroke:'#000','stroke-width':3},g);
    
    
    const lab = mk('text',{transform:'translate('+(c.axisX-tickLen-11)+','+(py+fontSize*0.36)+') scale('+xScaleText+',1)','text-anchor':'end','font-size':fontSize},g);
    lab.textContent = yLabels[i];
    
    
  });
  xPositions.forEach(function(px,i){
    const t = mk('line',{x1:px,x2:px,y1:c.bottom,y2:c.bottom+tickLen,stroke:'#000','stroke-width':3},g);
    
    
    const lab = mk('text',{transform:'translate('+px+','+c.tickBase+') scale('+xScaleText+',1)','text-anchor':'middle','font-size':fontSize},g);
    lab.textContent = xLabels[i];
    
    
  });
}

function drawBoxGlyph(g, cx, half, stats, yScale, color){
  const w1 = mk('line',{x1:cx,x2:cx,y1:yScale(stats[0]),y2:yScale(stats[1]),stroke:color,'stroke-width':3},g);
  
  
  const w2 = mk('line',{x1:cx,x2:cx,y1:yScale(stats[3]),y2:yScale(stats[4]),stroke:color,'stroke-width':3},g);
  
  
  const r = mk('rect',{x:cx-half,width:2*half,y:yScale(stats[3]),height:yScale(stats[1])-yScale(stats[3]),fill:'#fff','fill-opacity':0,stroke:color,'stroke-width':3.5},g);
  
  
  const m = mk('line',{x1:cx-half,x2:cx+half,y1:yScale(stats[2]),y2:yScale(stats[2]),stroke:color,'stroke-width':7},g);
  
  
}

function drawBoxPanel(c){
  const g = mk('g',{},plotLayer);
  
  
  const yScale = linear(c.vA, c.vB, c.pA, c.pB);
  const xCat = linear(0, 1, c.xN, c.xT);
  drawAxes(g, c, yScale, c.ticks, c.tickLabels, [xCat(0), xCat(1)], categories, 44, 0.93, 10);
  drawBoxGlyph(g, xCat(0), c.half, c.nBox, yScale, BLUE);
  drawBoxGlyph(g, xCat(1), c.half, c.tBox, yScale, RED);
  c.nVals.forEach(function(v,i){
    const p = mk('circle',{cx:xCat(c.nJit[i]/100),cy:yScale(v),r:DOT_R,fill:BLUE},g);
    
    
  });
  c.tVals.forEach(function(v,i){
    const p = mk('circle',{cx:xCat(1+tumorJitter[i%tumorJitter.length]/100),cy:yScale(v),r:DOT_R,fill:RED},g);
    
    
  });
  c.tDense.forEach(function(v,i){
    const p = mk('circle',{cx:xCat(1+denseJitter[i%denseJitter.length]/100),cy:yScale(v),r:DOT_R,fill:RED},g);
    
    
  });
  c.tExV.forEach(function(v,i){
    const p = mk('circle',{cx:xCat(1+c.tExJ[i]/100),cy:yScale(v),r:DOT_R,fill:RED},g);
    
    
  });
}

function stepPath(times, vals, endT, xs, ys){
  let d = '';
  for (let i = 0; i < times.length; i++){
    const nextT = i + 1 < times.length ? times[i+1] : endT;
    d += (i ? 'L' : 'M') + xs(times[i]).toFixed(1) + ' ' + ys(vals[i]).toFixed(1);
    d += 'L' + xs(nextT).toFixed(1) + ' ' + ys(vals[i]).toFixed(1);
  }
  return d;
}
function bandPath(tU, vU, tL, vL, endT, xs, ys){
  let d = stepPath(tU, vU, endT, xs, ys);
  for (let i = tL.length - 1; i >= 0; i--){
    const nextT = i + 1 < tL.length ? tL[i+1] : endT;
    d += 'L' + xs(nextT).toFixed(1) + ' ' + ys(vL[i]).toFixed(1);
    d += 'L' + xs(tL[i]).toFixed(1) + ' ' + ys(vL[i]).toFixed(1);
  }
  return d + 'Z';
}
function survAt(t, times, vals){
  let v = vals[0];
  for (let i = 0; i < times.length; i++){ if (times[i] <= t) v = vals[i]; }
  return v;
}
function drawCensor(g, s, xs, ys, color){
  s.censor.forEach(function(t){
    const px = xs(t), py = ys(survAt(t, s.time, s.surv));
    const m = mk('path',{d:'M'+(px-12)+' '+py+'H'+(px+12)+'M'+px+' '+(py-12)+'V'+(py+12),stroke:color,'stroke-width':3,fill:'none'},g);
    
    
  });
}

function drawKmPanel(c){
  const g = mk('g',{},plotLayer);
  
  
  const xs = linear(0, 20, c.x0, c.x20);
  const ys = linear(0, 1, c.y0, c.y1);
  drawAxes(g, c, ys, survTicks, survTickLabels, xTickYears.map(xs), xTickYears.map(String), 37, 0.97, 10);
  const l1 = mk('path',{d:stepPath(c.high.time,c.high.surv,c.high.end,xs,ys),fill:'none',stroke:RED,'stroke-width':6.5},g);
  
  
  const l2 = mk('path',{d:stepPath(c.low.time,c.low.surv,c.low.end,xs,ys),fill:'none',stroke:BLUE,'stroke-width':6.5},g);
  
  
  const b1 = mk('path',{d:bandPath(c.high.upT,c.high.up,c.high.loT,c.high.lo,c.high.bandEnd,xs,ys),fill:RED,'fill-opacity':0.3},g);
  
  
  const b2 = mk('path',{d:bandPath(c.low.upT,c.low.up,c.low.loT,c.low.lo,c.low.bandEnd,xs,ys),fill:BLUE,'fill-opacity':0.3},g);
  
  
  if (c.redTop){
    drawCensor(g, c.low, xs, ys, BLUE);
    drawCensor(g, c.high, xs, ys, RED);
  } else {
    drawCensor(g, c.high, xs, ys, RED);
    drawCensor(g, c.low, xs, ys, BLUE);
  }
}

drawBoxPanel({axisX:138,top:202,bottom:1096.6,right:1252,tickBase:1149,xN:441,xT:948,half:177.6,vA:0,vB:8,pA:1056.6,pB:238.5,ticks:yTicksA,tickLabels:yTickLabelsA,nBox:normalBoxA,tBox:tumorBoxA,nJit:normalJitterA,nVals:normalValuesA,tVals:tumorValuesA,tDense:tumorDenseA,tExJ:tumorExtraJitterA,tExV:tumorExtraValuesA});
drawBoxPanel({axisX:1409.5,top:202,bottom:1099,right:2501,tickBase:1151.5,xN:1707,xT:2203,half:174,vA:9,vB:14,pA:1053.5,pB:266.7,ticks:yTicksB,tickLabels:yTickLabelsB,nBox:normalBoxB,tBox:tumorBoxB,nJit:normalJitterB,nVals:normalValuesB,tVals:tumorValuesB,tDense:tumorDenseB,tExJ:tumorExtraJitterB,tExV:tumorExtraValuesB});
drawBoxPanel({axisX:2640,top:202,bottom:1096.6,right:3753,tickBase:1149,xN:2943.5,xT:3450.6,half:177.6,vA:0,vB:6,pA:1056.6,pB:236,ticks:yTicksC,tickLabels:yTickLabelsC,nBox:normalBoxC,tBox:tumorBoxC,nJit:normalJitterC,nVals:normalValuesC,tVals:tumorValuesC,tDense:tumorDenseC,tExJ:tumorExtraJitterC,tExV:tumorExtraValuesC});
drawBoxPanel({axisX:572,top:1484,bottom:2394,right:1629,tickBase:2449,xN:860,xT:1342,half:168.7,vA:0,vB:10,pA:2352,pB:1515,ticks:yTicksD,tickLabels:yTickLabelsD,nBox:normalBoxD,tBox:tumorBoxD,nJit:normalJitterD,nVals:normalValuesD,tVals:tumorValuesD,tDense:tumorDenseD,tExJ:tumorExtraJitterD,tExV:tumorExtraValuesD});
drawBoxPanel({axisX:2297.5,top:1482,bottom:2394,right:3394.5,tickBase:2449,xN:2596,xT:3096,half:175,vA:8,vB:12,pA:2364,pB:1733,ticks:yTicksE,tickLabels:yTickLabelsE,nBox:normalBoxE,tBox:tumorBoxE,nJit:normalJitterE,nVals:normalValuesE,tVals:tumorValuesE,tDense:tumorDenseE,tExJ:tumorExtraJitterE,tExV:tumorExtraValuesE});

drawKmPanel({axisX:180,top:2760,bottom:3682.5,right:1252,tickBase:3729,x0:228,x20:1203,y0:3641,y1:2801,redTop:false,
  high:{time:fHighTime,surv:fHighSurv,end:13.65,upT:fHighUpperT,up:fHighUpper,loT:fHighLowerT,lo:fHighLower,bandEnd:13.72,censor:fHighCensor},
  low:{time:fLowTime,surv:fLowSurv,end:19.85,upT:fLowUpperT,up:fLowUpper,loT:fLowLowerT,lo:fLowLower,bandEnd:19.85,censor:fLowCensor}});
drawKmPanel({axisX:1435,top:2760,bottom:3685,right:2504,tickBase:3733,x0:1482.6,x20:2457.4,y0:3642,y1:2801,redTop:false,
  high:{time:gHighTime,surv:gHighSurv,end:13.65,upT:gHighUpperT,up:gHighUpper,loT:gHighLowerT,lo:gHighLower,bandEnd:13.72,censor:gHighCensor},
  low:{time:gLowTime,surv:gLowSurv,end:19.85,upT:gLowUpperT,up:gLowUpper,loT:gLowLowerT,lo:gLowLower,bandEnd:19.85,censor:gLowCensor}});
drawKmPanel({axisX:2685,top:2760,bottom:3685,right:3761,tickBase:3733,x0:2733,x20:3712.5,y0:3642,y1:2801,redTop:true,
  high:{time:hHighTime,surv:hHighSurv,end:19.85,upT:hHighUpperT,up:hHighUpper,loT:hHighLowerT,lo:hHighLower,bandEnd:19.85,censor:hHighCensor},
  low:{time:hLowTime,surv:hLowSurv,end:9.2,upT:hLowUpperT,up:hLowUpper,loT:hLowLowerT,lo:hLowLower,bandEnd:9.2,censor:hLowCensor}});
drawKmPanel({axisX:830.5,top:4035,bottom:4965,right:1902,tickBase:5014,x0:878.6,x20:1853.7,y0:4923,y1:4075,redTop:true,
  high:{time:iHighTime,surv:iHighSurv,end:19.85,upT:iHighUpperT,up:iHighUpper,loT:iHighLowerT,lo:iHighLower,bandEnd:19.85,censor:iHighCensor},
  low:{time:iLowTime,surv:iLowSurv,end:7.05,upT:iLowUpperT,up:iLowUpper,loT:iLowLowerT,lo:iLowLower,bandEnd:7.05,censor:iLowCensor}});
drawKmPanel({axisX:2328,top:4036,bottom:4963,right:3400,tickBase:5010,x0:2377,x20:3353,y0:4921,y1:4076.6,redTop:true,
  high:{time:jHighTime,surv:jHighSurv,end:19.85,upT:jHighUpperT,up:jHighUpper,loT:jHighLowerT,lo:jHighLower,bandEnd:19.85,censor:jHighCensor},
  low:{time:jLowTime,surv:jLowSurv,end:8.1,upT:jLowUpperT,up:jLowUpper,loT:jLowLowerT,lo:jLowLower,bandEnd:8.1,censor:jLowCensor}});
</script>
</body>
</html>
